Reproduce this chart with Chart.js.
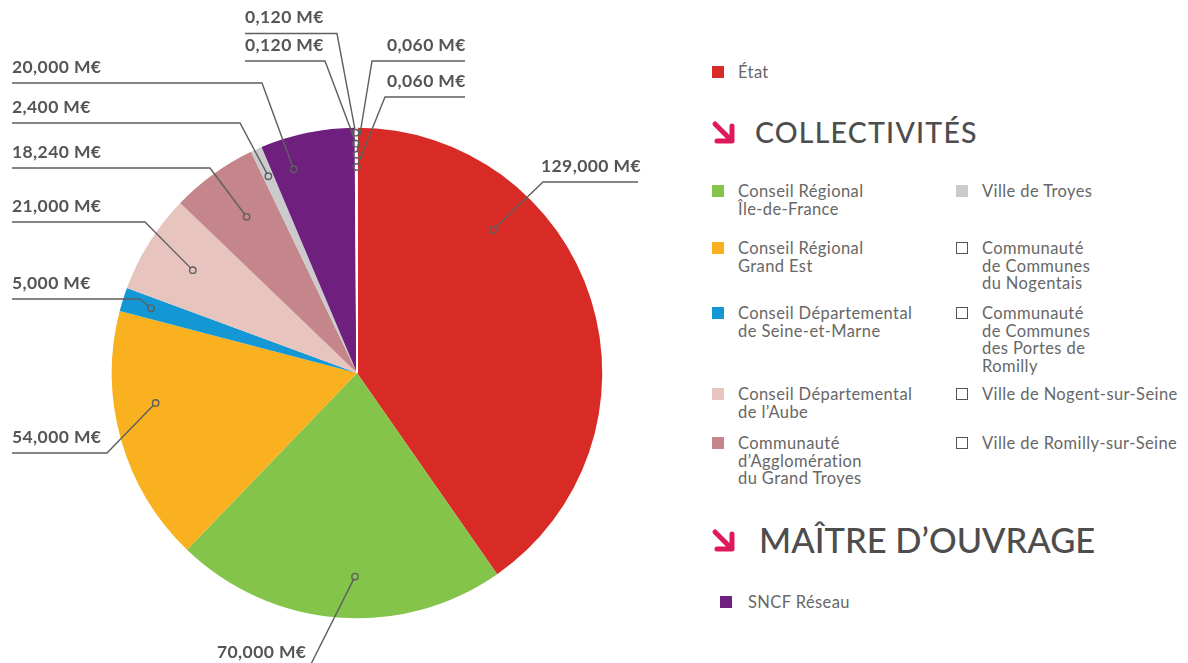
<!DOCTYPE html>
<html lang="fr">
<head>
<meta charset="utf-8">
<title>Financement</title>
<script src="https://cdn.jsdelivr.net/npm/chart.js@4/dist/chart.umd.min.js"></script>
<style>
  html, body { margin: 0; padding: 0; background: #fff; }
  body { width: 1188px; height: 663px; position: relative; overflow: hidden; font-family: Lato, "Open Sans", sans-serif; }
  #chartBox { position: absolute; left: 0; top: 0; width: 700px; height: 663px; }
  .lg-item { position: absolute; color: #676767; font-size: 16.5px; letter-spacing: 0.4px; line-height: 17.5px; white-space: pre-line; }
  .lg-sw { position: absolute; width: 12px; height: 12px; box-sizing: border-box; }
  .lg-head { position: absolute; color: #4d4d4d; font-weight: 500; white-space: nowrap; line-height: 1; }
  .lg-arrow { position: absolute; width: 25px; height: 25px; }
</style>
</head>
<body>
<div id="chartBox"><canvas id="chartCanvas"></canvas></div>
<div id="legendBox"></div>
<script>
(function() {
  'use strict';

  // data, clockwise from 12 o'clock
  var categories = [
    'État',
    'Conseil Régional\nÎle-de-France',
    'Conseil Régional\nGrand Est',
    'Conseil Départemental\nde Seine-et-Marne',
    'Conseil Départemental\nde l’Aube',
    'Communauté\nd’Agglomération\ndu Grand Troyes',
    'Ville de Troyes',
    'SNCF Réseau',
    'Communauté\nde Communes\ndu Nogentais',
    'Communauté\nde Communes\ndes Portes de\nRomilly',
    'Ville de Nogent-sur-Seine',
    'Ville de Romilly-sur-Seine'
  ];
  var amounts = [129, 70, 54, 5, 21, 18.24, 2.4, 20, 0.12, 0.12, 0.06, 0.06];
  var sliceColors = ['#d92b26', '#84c44a', '#f9b11f', '#1498d5', '#e8c4be', '#c4868a',
                     '#cbcbcd', '#6f1f7e', '#ffffff', '#ffffff', '#ffffff', '#ffffff'];

  // legend groups (indexes into categories)
  var groupEtat = [0];
  var groupCollLeft = [1, 2, 3, 4, 5];
  var groupCollRight = [6, 8, 9, 10, 11];
  var groupMaitre = [7];

  // where the small ring sits inside each slice: t = fraction of the angle, f = fraction of radius
  var anchorSpots = [
    { t: 0.30, f: 0.805 }, { t: 0.45, f: 0.83 }, { t: 0.62, f: 0.83 }, { t: 0.5, f: 0.88 },
    { t: 0.5, f: 0.79 }, { t: 0.53, f: 0.78 }, { t: 0.5, f: 0.88 }, { t: 0.25, f: 0.87 },
    { t: 0.5, f: 0.98 }, { t: 0.5, f: 0.935 }, { t: 0.5, f: 0.89 }, { t: 0.5, f: 0.84 }
  ];
  // label placement: tx = text left, ly = underline y, lx = far end of underline, ex = elbow
  var labelSpots = [
    { tx: 541, ly: 182, lx: 638, ex: 543 },
    { tx: 217, ly: 668, lx: 217, ex: 309 },
    { tx: 12, ly: 453, lx: 12, ex: 107 },
    { tx: 12, ly: 299, lx: 12, ex: 140 },
    { tx: 12, ly: 222, lx: 12, ex: 145 },
    { tx: 12, ly: 168, lx: 12, ex: 210 },
    { tx: 12, ly: 123, lx: 12, ex: 240 },
    { tx: 12, ly: 83, lx: 12, ex: 262 },
    { tx: 245, ly: 33.5, lx: 245, ex: 337 },
    { tx: 245, ly: 61, lx: 245, ex: 325 },
    { tx: 387, ly: 61, lx: 465, ex: 372 },
    { tx: 387, ly: 97, lx: 465, ex: 385 }
  ];

  function fmt(v) {
    return v.toFixed(3).replace('.', ',') + ' M€';
  }

  var leaderLabels = {
    id: 'leaderLabels',
    afterDatasetsDraw: function(chart) {
      var ctx = chart.ctx;
      var meta = chart.getDatasetMeta(0);
      ctx.save();
      meta.data.forEach(function(arc, i) {
        var p = arc.getProps(['x', 'y', 'startAngle', 'endAngle', 'outerRadius'], true);
        var spot = anchorSpots[i];
        var lab = labelSpots[i];
        var a = p.startAngle + spot.t * (p.endAngle - p.startAngle);
        var r = p.outerRadius * spot.f;
        var dx = p.x + Math.cos(a) * r;
        var dy = p.y + Math.sin(a) * r;
        var ringR = 3.2;

        var ang = Math.atan2(dy - lab.ly, dx - lab.ex);
        var dist = Math.hypot(dx - lab.ex, dy - lab.ly) - ringR;

        ctx.strokeStyle = '#5f5f5f';
        ctx.lineWidth = 1.4;
        ctx.beginPath();
        ctx.moveTo(lab.lx, lab.ly);
        ctx.lineTo(lab.ex, lab.ly);
        ctx.lineTo(lab.ex + Math.cos(ang) * dist, lab.ly + Math.sin(ang) * dist);
        ctx.stroke();

        ctx.beginPath();
        ctx.arc(dx, dy, ringR, 0, Math.PI * 2);
        ctx.stroke();

        ctx.fillStyle = '#555555';
        ctx.font = 'bold 17.5px Lato, sans-serif';
        ctx.letterSpacing = '0.4px';
        ctx.textBaseline = 'middle';
        ctx.textAlign = 'left';
        ctx.fillText(fmt(amounts[i]), lab.tx, lab.ly - 16);
      });
      ctx.restore();
    }
  };

  function buildChart() {
    var ctx = document.getElementById('chartCanvas').getContext('2d');
    new Chart(ctx, {
      type: 'pie',
      data: {
        labels: categories,
        datasets: [{
          data: amounts,
          backgroundColor: sliceColors,
          borderColor: '#ffffff',
          borderWidth: amounts.map(function(v) { return v < 1 ? 1.5 : 0; }),
          hoverOffset: 0
        }]
      },
      options: {
        responsive: true,
        maintainAspectRatio: false,
        animation: false,
        layout: { padding: { left: 111, top: 127, right: 97, bottom: 44 } },
        plugins: {
          legend: { display: false },
          tooltip: { enabled: false }
        }
      },
      plugins: [leaderLabels]
    });
  }

  var arrowSvg = '<svg viewBox="0 0 25 25" width="25" height="25">' +
    '<path d="M4 4 L19 19 M6 21 L21 21 L21 6" fill="none" stroke="#e0195d" stroke-width="5" stroke-linecap="round" stroke-linejoin="round"/></svg>';

  function addItem(box, idx, x, y, textOffset) {
    var sw = document.createElement('div');
    sw.className = 'lg-sw';
    sw.style.left = x + 'px';
    sw.style.top = (y - 6) + 'px';
    if (sliceColors[idx] === '#ffffff') {
      sw.style.border = '1.5px solid #555';
      sw.style.background = '#fff';
    } else {
      sw.style.background = sliceColors[idx];
    }
    box.appendChild(sw);

    var tx = document.createElement('div');
    tx.className = 'lg-item';
    tx.style.left = (x + textOffset) + 'px';
    tx.style.top = (y - 8) + 'px';
    tx.textContent = categories[idx];
    box.appendChild(tx);
  }

  function addHead(box, text, x, y, size, spacing) {
    var ar = document.createElement('div');
    ar.className = 'lg-arrow';
    ar.style.left = '711px';
    ar.style.top = (y - 13) + 'px';
    ar.innerHTML = arrowSvg;
    box.appendChild(ar);

    var h = document.createElement('div');
    h.className = 'lg-head';
    h.style.left = x + 'px';
    h.style.fontSize = size + 'px';
    h.style.letterSpacing = spacing + 'px';
    h.style.top = (y - size / 2 - 1) + 'px';
    h.textContent = text;
    box.appendChild(h);
  }

  function buildLegend() {
    var box = document.getElementById('legendBox');
    var rowsY = [191, 248, 313, 394, 443];

    groupEtat.forEach(function(idx) { addItem(box, idx, 712, 72, 26); });
    addHead(box, 'COLLECTIVITÉS', 755, 133, 28.5, 1.2);
    groupCollLeft.forEach(function(idx, k) { addItem(box, idx, 712, rowsY[k], 26); });
    groupCollRight.forEach(function(idx, k) { addItem(box, idx, 956, rowsY[k], 26); });
    addHead(box, 'MAÎTRE D’OUVRAGE', 759, 541, 34.5, 0);
    groupMaitre.forEach(function(idx) { addItem(box, idx, 720, 602, 28); });
  }

  buildChart();
  buildLegend();
})();
</script>
</body>
</html>
